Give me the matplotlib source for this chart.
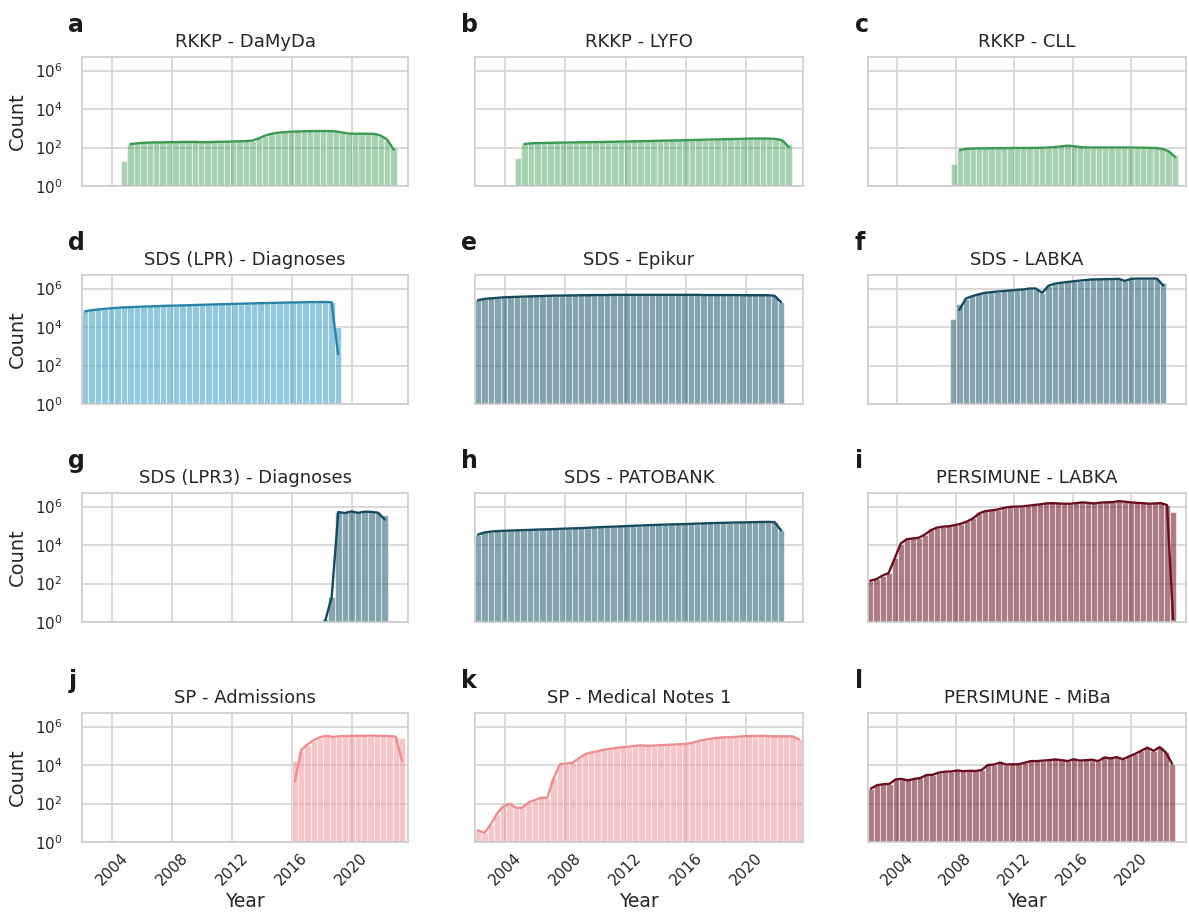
import matplotlib.pyplot as plt
import numpy as np

# panel titles / letters in reading order
titles = [
    "RKKP - DaMyDa", "RKKP - LYFO", "RKKP - CLL",
    "SDS (LPR) - Diagnoses", "SDS - Epikur", "SDS - LABKA",
    "SDS (LPR3) - Diagnoses", "SDS - PATOBANK", "PERSIMUNE - LABKA",
    "SP - Admissions", "SP - Medical Notes 1", "PERSIMUNE - MiBa",
]
letters = list("abcdefghijkl")

# first / last bin edge of every histogram (year)
starts = [2004.6, 2004.65, 2007.65, 2002.0, 2002.0, 2007.6,
          2018.0, 2002.0, 2001.96, 2016.0, 2002.0, 2002.0]
stops = [2023.0, 2023.0, 2023.2, 2019.3, 2022.5, 2022.4,
         2022.4, 2022.5, 2023.07, 2023.56, 2023.67, 2023.0]

# counts per bin
damyda = [20, 150, 165, 175, 180, 185, 185, 190, 190, 195, 195, 195, 190, 190, 195,
          200, 200, 205, 210, 215, 230, 300, 420, 520, 590, 630, 660, 680, 700, 710,
          720, 720, 710, 690, 600, 530, 520, 520, 520, 510, 420, 260, 110]
lyfo = [30, 150, 165, 170, 172, 175, 178, 180, 182, 185, 188, 190, 192, 195, 198,
        200, 203, 206, 210, 213, 216, 220, 224, 228, 232, 236, 240, 245, 250, 255,
        260, 265, 270, 275, 280, 285, 290, 290, 295, 290, 280, 240, 150]
cll = [14, 75, 85, 88, 90, 90, 92, 92, 93, 94, 95, 95, 95, 96, 97, 100, 105, 115,
       125, 118, 105, 100, 100, 100, 100, 100, 100, 100, 100, 98, 98, 97, 95, 85, 65, 40]
lpr = [66000, 75000, 82000, 88000, 95000, 100000, 105000, 108000, 112000, 115000,
       118000, 122000, 125000, 128000, 130000, 133000, 136000, 140000, 143000, 146000,
       150000, 153000, 156000, 160000, 163000, 166000, 170000, 173000, 176000, 180000,
       183000, 186000, 190000, 192000, 195000, 198000, 200000, 200000, 195000, 10000]
epikur = [2.5e5, 2.9e5, 3.1e5, 3.3e5, 3.5e5, 3.6e5, 3.7e5, 3.8e5, 3.9e5, 4.0e5,
          4.1e5, 4.2e5, 4.3e5, 4.3e5, 4.4e5, 4.4e5, 4.5e5, 4.5e5, 4.6e5, 4.6e5,
          4.6e5, 4.7e5, 4.7e5, 4.7e5, 4.7e5, 4.7e5, 4.7e5, 4.7e5, 4.7e5, 4.7e5,
          4.7e5, 4.7e5, 4.7e5, 4.7e5, 4.7e5, 4.6e5, 4.6e5, 4.6e5, 4.6e5, 4.6e5,
          4.6e5, 4.5e5, 4.5e5, 4.5e5, 4.5e5, 4.5e5, 4.2e5, 2.0e5]
sds_labka = [2.6e4, 1.5e5, 3e5, 4e5, 5e5, 6e5, 6.5e5, 7e5, 7.5e5, 8e5, 8.5e5, 9e5,
             1.0e6, 1.0e6, 6e5, 1.4e6, 1.8e6, 2.0e6, 2.2e6, 2.4e6, 2.6e6, 2.8e6,
             3.0e6, 3.0e6, 3.1e6, 3.1e6, 3.2e6, 2.5e6, 3.2e6, 3.3e6, 3.3e6, 3.3e6,
             3.3e6, 2.0e6]
lpr3 = [1.5, 20, 5.5e5, 5.0e5, 5.6e5, 5.0e5, 5.4e5, 5.6e5, 5.1e5, 3.5e5]
patobank = [3.5e4, 4.5e4, 5.0e4, 5.3e4, 5.5e4, 5.6e4, 5.8e4, 6.0e4, 6.1e4, 6.3e4,
            6.5e4, 6.6e4, 6.8e4, 7.0e4, 7.2e4, 7.4e4, 7.6e4, 7.9e4, 8.2e4, 8.5e4,
            8.8e4, 9.0e4, 9.3e4, 9.6e4, 1.0e5, 1.03e5, 1.06e5, 1.1e5, 1.12e5, 1.15e5,
            1.18e5, 1.2e5, 1.23e5, 1.26e5, 1.3e5, 1.33e5, 1.36e5, 1.4e5, 1.42e5, 1.45e5,
            1.48e5, 1.5e5, 1.52e5, 1.55e5, 1.58e5, 1.6e5, 1.55e5, 6e4]
pers_labka = [140, 170, 260, 350, 2000, 1.2e4, 2e4, 2.2e4, 2.4e4, 3.5e4, 6e4, 8e4,
              9e4, 9.5e4, 1.1e5, 1.3e5, 1.7e5, 2.5e5, 4.5e5, 5.8e5, 6.3e5, 7e5,
              8.5e5, 9.5e5, 1.0e6, 1.0e6, 1.1e6, 1.2e6, 1.3e6, 1.45e6, 1.5e6, 1.45e6,
              1.4e6, 1.4e6, 1.5e6, 1.65e6, 1.55e6, 1.45e6, 1.6e6, 1.65e6, 1.7e6, 1.9e6,
              1.8e6, 1.65e6, 1.55e6, 1.5e6, 1.4e6, 1.45e6, 1.5e6, 1.2e6, 5.5e5]
admissions = [1.7e4, 5.5e4, 1.1e5, 1.8e5, 2.6e5, 3.2e5, 2.9e5, 3.0e5, 3.1e5, 3.2e5,
              3.2e5, 3.2e5, 3.2e5, 3.2e5, 3.2e5, 3.1e5, 2.9e5, 2.5e5]
notes = [4, 3, 8, 30, 70, 100, 60, 60, 110, 150, 200, 200, 2000, 1.1e4, 1.2e4, 1.3e4,
         2.2e4, 3.6e4, 4.5e4, 5.2e4, 6.2e4, 7e4, 7.8e4, 8.4e4, 9e4, 1.0e5, 1.05e5,
         1.0e5, 1.02e5, 1.08e5, 1.12e5, 1.15e5, 1.2e5, 1.25e5, 1.4e5, 1.75e5, 2.05e5,
         2.3e5, 2.6e5, 2.7e5, 2.8e5, 2.9e5, 3.1e5, 3.2e5, 3.2e5, 3.3e5, 3.2e5, 3.1e5,
         3.1e5, 3.1e5, 3.1e5, 2.2e5]
miba = [600, 900, 1000, 1050, 1800, 1900, 1600, 1900, 2100, 3000, 3100, 4000, 4500,
        4600, 5200, 4800, 5000, 4900, 5500, 1.0e4, 1.05e4, 1.35e4, 1.05e4, 1.1e4,
        1.1e4, 1.3e4, 1.6e4, 1.6e4, 1.7e4, 1.8e4, 1.95e4, 1.8e4, 1.6e4, 2.0e4, 1.7e4,
        1.8e4, 1.9e4, 1.6e4, 2.5e4, 2.2e4, 2.6e4, 2.0e4, 2.8e4, 3.8e4, 5.5e4, 8.0e4,
        5.5e4, 8.5e4, 4.5e4, 1.2e4]

# density line values where they differ from the bars (nan = no line)
nan = np.nan
damyda_line = [nan] + damyda[1:-1] + [80]
lyfo_line = [nan] + lyfo[1:-1] + [110]
cll_line = [nan] + cll[1:-1] + [33]
lpr_line = lpr[:-1] + [400]
sds_labka_line = [nan, 8e4] + sds_labka[2:-1] + [1.5e6]
lpr3_line = [1.1, 20, 5.2e5, 4.6e5, 5.6e5, 4.7e5, 5.4e5, 5.3e5, 4.8e5, 2.2e5]
pers_labka_line = pers_labka[:-1] + [1.5]
admissions_line = [1.5e3, 6e4, 1.2e5, 2e5, 2.8e5, 3.3e5, 2.9e5, 3.1e5, 3.2e5, 3.3e5,
                   3.3e5, 3.3e5, 3.4e5, 3.3e5, 3.3e5, 3.2e5, 3.0e5, 1.6e4]

bars = [damyda, lyfo, cll, lpr, epikur, sds_labka, lpr3, patobank, pers_labka,
        admissions, notes, miba]
lines = [damyda_line, lyfo_line, cll_line, lpr_line, epikur, sds_labka_line,
         lpr3_line, patobank, pers_labka_line, admissions_line, notes, miba]

green, blue, slate, maroon, pink = "#3a9a50", "#4ba3c7", "#1f5a70", "#6a0f1f", "#ee8c90"
bar_colors = [green, green, green, blue, slate, slate, slate, slate, maroon,
              pink, pink, maroon]
line_colors = [green, green, green, "#2b84a8", "#174a5e", "#174a5e", "#174a5e",
               "#174a5e", maroon, pink, pink, maroon]
bar_alpha = [0.45, 0.45, 0.45, 0.6, 0.55, 0.55, 0.55, 0.55, 0.55, 0.5, 0.5, 0.55]

plt.rcParams["font.family"] = "DejaVu Sans"
fig = plt.figure(figsize=(11.89, 9.19), dpi=100)

W, H = 1189, 919
col_left = [82, 475, 868]
col_width = [326, 328, 318]
row_bottom = [186, 404, 622, 842]
ax_h = 129.5

for i in range(12):
    r, c = divmod(i, 3)
    ax = fig.add_axes([col_left[c] / W, 1 - row_bottom[r] / H,
                       col_width[c] / W, ax_h / H])
    counts = np.asarray(bars[i], float)
    edges = np.linspace(starts[i], stops[i], len(counts) + 1)
    centers = (edges[:-1] + edges[1:]) / 2
    ax.set_yscale("log")
    ax.bar(edges[:-1], counts, width=np.diff(edges), align="edge",
           color=bar_colors[i], alpha=bar_alpha[i], edgecolor="white", linewidth=0.8)
    ax.plot(centers, np.asarray(lines[i], float), color=line_colors[i], lw=1.7)

    ax.set_xlim(2002.0, 2023.75)
    ax.set_ylim(1, 10 ** 6.73)
    ax.set_yticks([1, 1e2, 1e4, 1e6])
    ax.set_yticklabels(["$10^0$", "$10^2$", "$10^4$", "$10^6$"])
    ax.minorticks_off()
    ax.set_xticks([2004, 2008, 2012, 2016, 2020])
    ax.set_axisbelow(True)
    ax.grid(True, color="#d0d0d0", lw=1.1)
    for s in ax.spines.values():
        s.set_color("#cccccc")
        s.set_linewidth(1.2)
    ax.tick_params(length=0, labelcolor="#262626", labelsize=11)
    ax.tick_params(axis="y", pad=14)

    if c == 0:
        ax.set_ylabel("Count", fontsize=14, color="#262626", labelpad=6)
    else:
        ax.set_yticklabels([])
    if r == 3:
        ax.set_xticklabels(["2004", "2008", "2012", "2016", "2020"])
        ax.tick_params(axis="x", rotation=45, pad=6)
        ax.set_xlabel("Year", fontsize=13.5, color="#262626", labelpad=3)
    else:
        ax.set_xticklabels([])

    ax.set_title(titles[i], fontsize=13, color="#262626", pad=7)
    ax.text(-0.042, 1.19, letters[i], transform=ax.transAxes, fontsize=17,
            fontweight="bold", color="#1a1a1a", va="baseline", ha="left")

fig.savefig("out.png", dpi=100)
